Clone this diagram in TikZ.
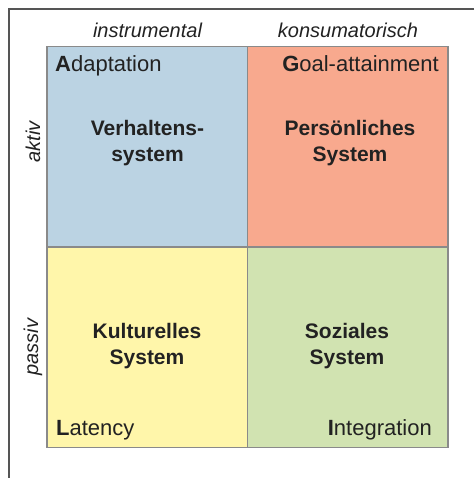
\documentclass[tikz,border=0pt]{standalone}
\usepackage{fontspec}
\setmainfont{Liberation Sans}
\definecolor{qblue}{HTML}{BBD3E3}
\definecolor{qred}{HTML}{F8A98E}
\definecolor{qyellow}{HTML}{FFF6AA}
\definecolor{qgreen}{HTML}{D1E3B1}
\definecolor{qborder}{HTML}{8A8A8A}
\definecolor{frameline}{HTML}{555555}
\definecolor{txt}{HTML}{222222}
\tikzset{
  quad/.style={draw=qborder, line width=1.5pt, minimum width=200.5pt, minimum height=200.5pt, inner sep=0pt, outer sep=0pt},
  head/.style={font=\fontsize{20}{24}\selectfont\itshape, text=txt, inner sep=0pt},
  corner/.style={font=\fontsize{22}{26}\selectfont, text=txt, inner sep=0pt},
  sysname/.style={font=\fontsize{21}{26}\selectfont\bfseries, text=txt, align=center, inner sep=0pt},
}
\begin{document}
\begin{tikzpicture}[x=1pt,y=-1pt]
\useasboundingbox (0,0) rectangle (474,478);
\coordinate (ftr) at (474,9);
\coordinate (ftl) at (9,9);
\coordinate (fbl) at (9,478);
\draw[frameline, line width=1.4pt] (ftr) -- (ftl) -- (fbl);

\node[quad, fill=qblue]   (A) at (147,146.8) {};
\node[quad, fill=qred]    (G) at (347.5,146.8) {};
\node[quad, fill=qyellow] (L) at (147,347.3) {};
\node[quad, fill=qgreen]  (I) at (347.5,347.3) {};

\node[head, anchor=base] (hinst) at (147.5,38) {instrumental};
\node[head, anchor=base] (hkons) at (348,38) {konsumatorisch};
\node[head, rotate=90] (hakt) at (33,142) {aktiv};
\node[head, rotate=90] (hpas) at (33,347) {passiv};

\node[corner, anchor=base west] (tA) at (55,72) {\textbf{A}daptation};
\node[corner, anchor=base east] (tG) at (439,72) {\textbf{G}oal-attainment};
\node[corner, anchor=base west] (tL) at (56,435) {\textbf{L}atency};
\node[corner, anchor=base east] (tI) at (432,435) {\textbf{I}ntegration};

\node[sysname] (sA) at (147.5,143) {Verhaltens-\\system};
\node[sysname] (sG) at (350,143) {Persönliches\\System};
\node[sysname] (sL) at (147,346) {Kulturelles\\System};
\node[sysname] (sI) at (347,346) {Soziales\\System};
\end{tikzpicture}
\end{document}
